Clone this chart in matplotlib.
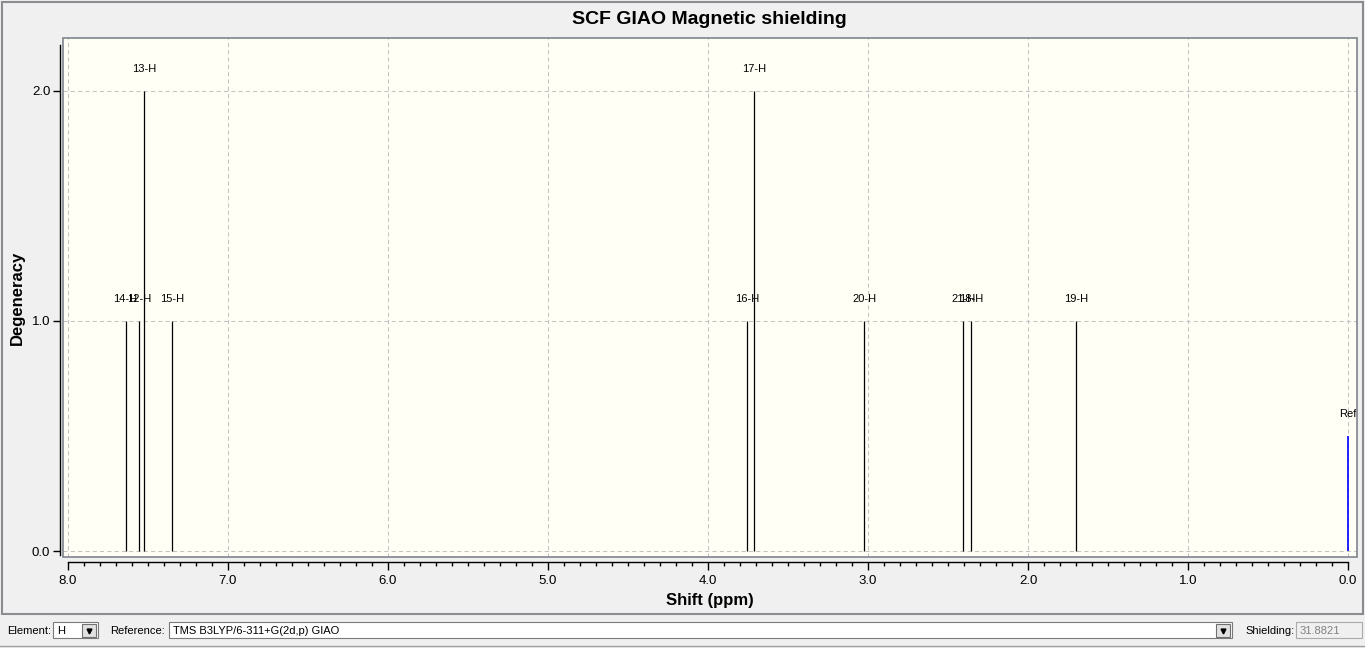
import matplotlib
matplotlib.use("Agg")
import matplotlib.pyplot as plt
from matplotlib.patches import Rectangle
from matplotlib.ticker import MultipleLocator, FormatStrFormatter

plt.rcParams['font.family'] = ['Liberation Sans', 'DejaVu Sans']

# peaks
labels = ['14-H', '12-H', '13-H', '15-H', '16-H', '17-H', '20-H', '21-H', '18-H', '19-H']
shifts = [7.64, 7.555, 7.525, 7.35, 3.755, 3.712, 3.023, 2.404, 2.357, 1.70]
degeneracy = [1, 1, 2, 1, 1, 2, 1, 1, 1, 1]
ref_label = 'Ref'
ref_shift = 0.0
ref_height = 0.5

element = 'H'
reference = 'TMS B3LYP/6-311+G(2d,p) GIAO'
shielding = '31.8821'

W, H = 1365, 648
fig = plt.figure(figsize=(W / 100, H / 100), dpi=100)
fig.patch.set_facecolor('#F0F0F0')

# background layer in pixel coords (window frame + toolbar)
bg = fig.add_axes([0, 0, 1, 1], zorder=0)
bg.set_xlim(0, W)
bg.set_ylim(H, 0)
bg.axis('off')
bg.add_patch(Rectangle((2, 2), 1361, 612, facecolor='#F0F0F0', edgecolor='#8A8C90', lw=1.5))
bg.plot([0, W], [646, 646], color='#A0A0A0', lw=1)

def combo(x, w, text, button=True, face='white', tcolor='black', edge='#7A7A7A'):
    bg.add_patch(Rectangle((x, 622), w, 16, facecolor=face, edgecolor=edge, lw=0.8))
    bg.text(x + 4, 630.5, text, fontsize=8, color=tcolor, va='center', ha='left')
    if button:
        bx = x + w - 16
        bg.add_patch(Rectangle((bx, 624), 14, 12.5, facecolor='#E1E1E1', edgecolor='#707070', lw=0.8))
        bg.plot([bx + 7], [631], marker='v', color='black', markersize=3.5)

bg.text(7, 630.5, 'Element:', fontsize=8, va='center')
combo(53, 45, element)
bg.text(110, 630.5, 'Reference:', fontsize=8, va='center')
combo(169, 1063, reference)
bg.text(1245, 630.5, 'Shielding:', fontsize=8, va='center')
combo(1296, 66, shielding, button=False, face='#F0F0F0', tcolor='#808080', edge='#ABABAB')

# main plot
L, R, T, B = 63, 1357, 38, 557
ax = fig.add_axes([L / W, (H - B) / H, (R - L) / W, (B - T) / H], zorder=1)
ax.set_facecolor('#FFFFF5')
ax.set_xlim(8.031, -0.056)
ax.set_ylim(-0.026, 2.23)

ax.xaxis.set_major_locator(MultipleLocator(1.0))
ax.xaxis.set_minor_locator(MultipleLocator(0.1))
ax.yaxis.set_major_locator(MultipleLocator(1.0))
ax.xaxis.set_major_formatter(FormatStrFormatter('%.1f'))
ax.yaxis.set_major_formatter(FormatStrFormatter('%.1f'))
ax.set_axisbelow(True)
ax.grid(True, which='major', color='#C4C4C4', linestyle=(0, (4, 3)), lw=0.75)

for s in ['top', 'right']:
    ax.spines[s].set_visible(False)
ax.spines['bottom'].set_position(('outward', 3.6))
ax.spines['bottom'].set_bounds(0, 8)
ax.spines['left'].set_position(('outward', 2.2))
ax.spines['left'].set_bounds(-0.017, 2.2)
for s in ['bottom', 'left']:
    ax.spines[s].set_color('black')
    ax.spines[s].set_linewidth(1.0)

ax.tick_params(axis='x', which='major', length=6, width=1, direction='out', labelsize=9.5, pad=3)
ax.tick_params(axis='x', which='minor', length=3, width=1, direction='out')
ax.tick_params(axis='y', which='major', length=5, width=1, direction='out', labelsize=9.5, pad=2)

# plot area frame
ax.add_patch(Rectangle((0, 0), 1, 1, transform=ax.transAxes, fill=False,
                       edgecolor='#7F858C', lw=1.2, clip_on=False, zorder=5))

ax.vlines(shifts, 0, degeneracy, color='black', lw=0.9)
ax.vlines([ref_shift], 0, [ref_height], color='blue', lw=1.2)
for lab, x, d in zip(labels, shifts, degeneracy):
    ax.annotate(lab, (x, d), xytext=(0, 17), textcoords='offset pixels',
                ha='center', va='bottom', fontsize=8)
ax.annotate(ref_label, (ref_shift, ref_height), xytext=(0, 17), textcoords='offset pixels',
            ha='center', va='bottom', fontsize=8)

ax.set_xlabel('Shift (ppm)', fontsize=12, fontweight='bold', labelpad=5)
ax.set_ylabel('Degeneracy', fontsize=12, fontweight='bold', labelpad=5)
fig.text(709 / W, 1 - 20 / H, 'SCF GIAO Magnetic shielding', fontsize=14, fontweight='bold',
         ha='center', va='center')

fig.savefig('out.png', dpi=100, facecolor=fig.get_facecolor())
